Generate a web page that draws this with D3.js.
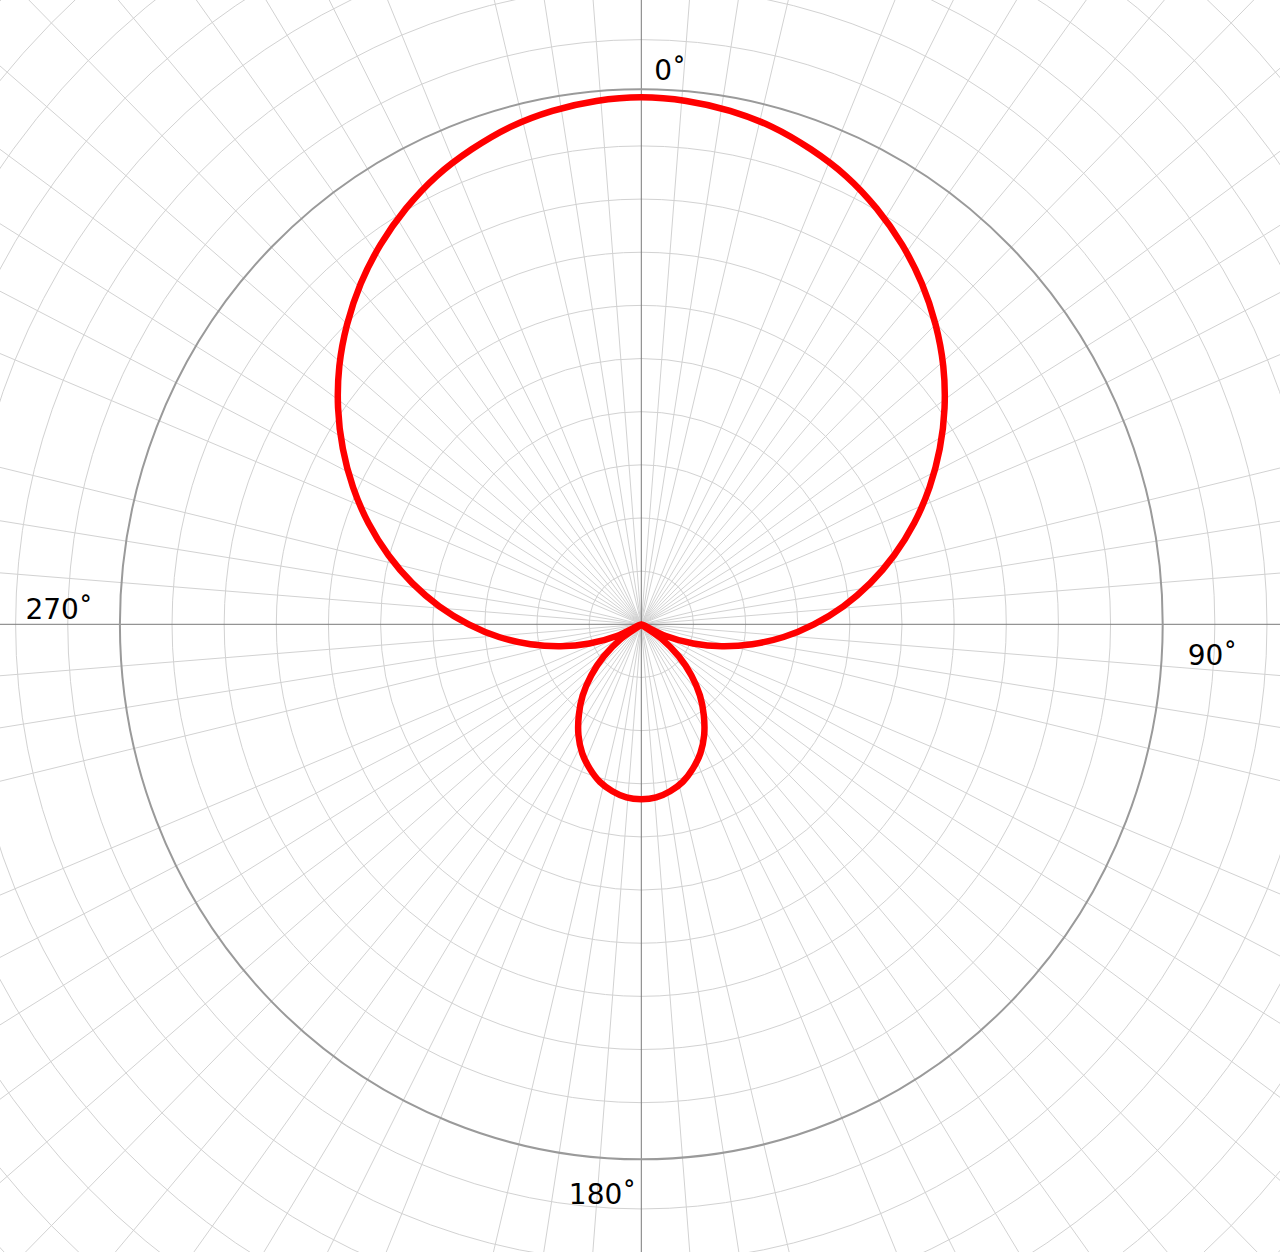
<!DOCTYPE html>
<html>
<head>
<meta charset="utf-8">
<script src="https://cdn.jsdelivr.net/npm/d3@7/dist/d3.min.js"></script>
<style>
  html, body { margin: 0; padding: 0; background: #ffffff; }
  svg { display: block; }
</style>
</head>
<body>
<svg id="chart" width="1280" height="1252"></svg>
<script>
// ---- data ----
const patternAngles = [0,5,10,15,20,25,30,35,40,45,50,55,60,65,70,75,80,85,
  90,95,100,105,110,115,120,125,130,135,140,145,150,155,160,165,170,175,
  180,185,190,195,200,205,210,215,220,225,230,235,240,245,250,255,260,265,
  270,275,280,285,290,295,300,305,310,315,320,325,330,335,340,345,350,355];
const patternRadii = [0.9915,0.9885,0.981,0.969,0.951,0.930,0.903,0.872,0.837,0.798,0.756,0.710,0.661,0.610,0.557,0.502,0.446,0.389,
  0.331,0.274,0.216,0.160,0.106,0.052,0.000,0.047,0.094,0.136,0.175,0.209,0.241,0.268,0.289,0.307,0.319,0.327,
  0.329,0.327,0.319,0.307,0.289,0.268,0.241,0.209,0.175,0.136,0.094,0.047,0.000,0.052,0.106,0.160,0.216,0.274,
  0.331,0.389,0.446,0.502,0.557,0.610,0.661,0.710,0.756,0.798,0.837,0.872,0.903,0.930,0.951,0.969,0.981,0.9885];
const ringValues = [0.1,0.2,0.3,0.4,0.5,0.6,0.7,0.8,0.9,1.1,1.2,1.3,1.4,1.5,1.6,1.7,1.8];
const outerRingValue = 1.0;
const spokeAngles = [4.5,9,13.5,22.5,27,31.5,36,40.5,45,49.5,54,58.5,63,67.5,76.5,81,85.5,
  94.5,99,103.5,112.5,117,121.5,126,130.5,135,139.5,144,148.5,153,157.5,166.5,171,175.5,
  184.5,189,193.5,202.5,207,211.5,216,220.5,225,229.5,234,238.5,243,247.5,256.5,261,265.5,
  274.5,279,283.5,292.5,297,301.5,306,310.5,315,319.5,324,328.5,333,337.5,346.5,351,355.5];
const axisAngles = [0, 90];
const labelAngles = [0, 90, 180, 270];
const labelTexts = ["0\u02DA", "90\u02DA", "180\u02DA", "270\u02DA"];

// ---- layout ----
const W = 1280, H = 1252;
const cx = 641.3, cy = 624.3;
const unitX = 521.4, unitY = 531.5;
const outerStretchY = 1.0066; // the dark reference circle sits a touch outside ring 1 vertically
const x = d3.scaleLinear().domain([-1, 1]).range([cx - unitX, cx + unitX]);
const y = d3.scaleLinear().domain([-1, 1]).range([cy + unitY, cy - unitY]);
const rad = d => d * Math.PI / 180;
const px = (r, a) => x(r * Math.sin(rad(a)));
const py = (r, a) => y(r * Math.cos(rad(a)));

const svg = d3.select("#chart");
svg.append("rect").attr("width", W).attr("height", H).attr("fill", "#ffffff");
const g = svg.append("g");

// rings
g.selectAll("ellipse.ring").data(ringValues).join("ellipse")
  .attr("class", "ring")
  .attr("cx", x(0)).attr("cy", y(0))
  .attr("rx", d => x(d) - x(0)).attr("ry", d => y(0) - y(d))
  .attr("fill", "none").attr("stroke", "#d2d2d2").attr("stroke-width", 1);

// spokes
g.selectAll("line.spoke").data(spokeAngles).join("line")
  .attr("class", "spoke")
  .attr("x1", x(0)).attr("y1", y(0))
  .attr("x2", d => px(2.2, d)).attr("y2", d => py(2.2, d))
  .attr("stroke", "#d2d2d2").attr("stroke-width", 1);

// axes
g.selectAll("line.axis").data(axisAngles).join("line")
  .attr("class", "axis")
  .attr("x1", d => px(2.2, d)).attr("y1", d => py(2.2, d))
  .attr("x2", d => px(2.2, d + 180)).attr("y2", d => py(2.2, d + 180))
  .attr("stroke", "#7a7a7a").attr("stroke-width", 1);

// outer reference circle
g.append("ellipse")
  .attr("cx", x(0)).attr("cy", y(0))
  .attr("rx", x(outerRingValue) - x(0))
  .attr("ry", (y(0) - y(outerRingValue)) * outerStretchY)
  .attr("fill", "none").attr("stroke", "#9a9a9a").attr("stroke-width", 2);

// pattern curve
const pts = patternAngles.map((a, i) => [a, patternRadii[i]]);
const line = d3.line()
  .x(d => px(d[1], d[0]))
  .y(d => py(d[1], d[0]))
  .curve(d3.curveCatmullRomClosed.alpha(0.5));
g.append("path").datum(pts)
  .attr("d", line)
  .attr("fill", "none").attr("stroke", "#ff0000").attr("stroke-width", 6.5)
  .attr("stroke-linejoin", "round");

// labels
const R = 1.048;
const place = {
  0:   {anchor: "start", dx: 13,   dy: 12.7},
  90:  {anchor: "start", dx: 0,    dy: 41},
  180: {anchor: "end",   dx: -5,   dy: 22.7},
  270: {anchor: "end",   dx: -2,   dy: -5}
};
g.selectAll("text.lbl").data(labelAngles).join("text")
  .attr("class", "lbl")
  .attr("x", d => px(R, d) + place[d].dx)
  .attr("y", d => py(R, d) + place[d].dy)
  .attr("text-anchor", d => place[d].anchor)
  .attr("font-family", "DejaVu Sans, sans-serif")
  .attr("font-size", 28)
  .attr("fill", "#000")
  .text((d, i) => labelTexts[i]);
</script>
</body>
</html>
